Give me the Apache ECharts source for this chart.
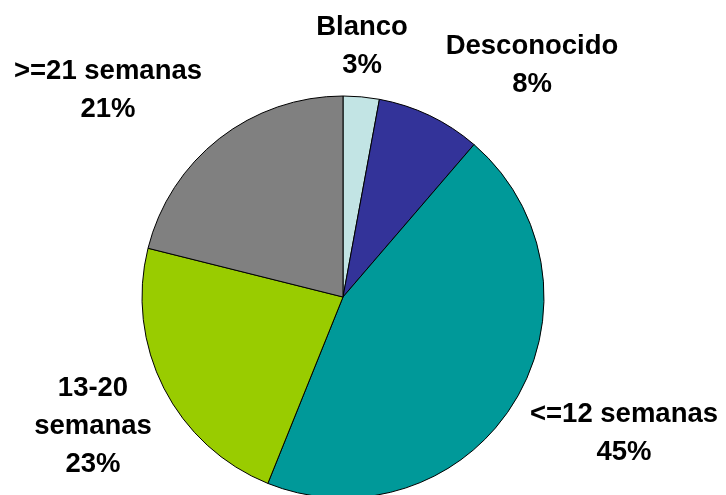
<!DOCTYPE html>
<html>
<head>
<meta charset="utf-8">
<style>html,body{margin:0;padding:0;background:#fff;}#c{width:726px;height:495px;}</style>
<script src="https://cdn.jsdelivr.net/npm/echarts@6/dist/echarts.min.js"></script>
</head>
<body>
<div id="c"></div>
<script>
var categories = ['Blanco', 'Desconocido', '<=12 semanas', '13-20 semanas', '>=21 semanas'];
var labelText = ['Blanco', 'Desconocido', '<=12 semanas', '13-20\nsemanas', '>=21 semanas'];
var values = [2.9, 8.4, 44.8, 22.8, 21.1];
var colors = ['#C2E4E4', '#333399', '#009999', '#99CC00', '#808080'];
var labelPos = [[362, 46], [532, 65], [624, 433], [93, 426], [108, 90]];

var chart = echarts.init(document.getElementById('c'), null, {renderer: 'canvas'});
chart.setOption({
  animation: false,
  backgroundColor: '#ffffff',
  series: [{
    type: 'pie',
    center: [343, 297],
    radius: 201,
    startAngle: 90,
    clockwise: true,
    avoidLabelOverlap: false,
    data: categories.map(function (c, i) {
      return {name: c, value: values[i], itemStyle: {color: colors[i]}};
    }),
    itemStyle: {borderColor: '#000', borderWidth: 1},
    label: {
      show: true,
      position: 'outside',
      fontFamily: 'Liberation Sans, Arial, sans-serif',
      fontWeight: 'bold',
      fontSize: 27.5,
      lineHeight: 38,
      color: '#000',
      align: 'center',
      formatter: function (p) {
        return labelText[p.dataIndex] + '\n' + Math.round(p.percent) + '%';
      }
    },
    labelLine: {show: false},
    labelLayout: function (p) {
      var pos = labelPos[p.dataIndex];
      return {x: pos[0], y: pos[1], align: 'center', verticalAlign: 'middle'};
    },
    emphasis: {disabled: true}
  }]
});
</script>
</body>
</html>
